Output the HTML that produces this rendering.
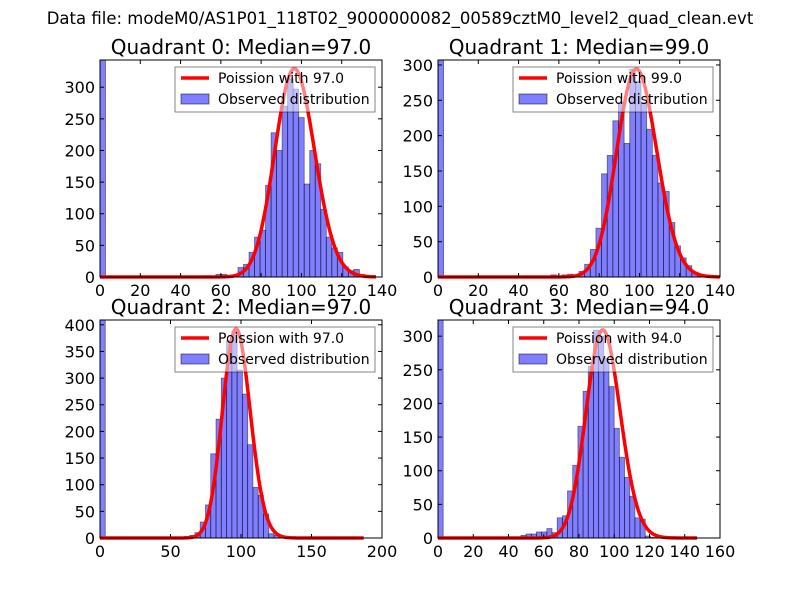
<!DOCTYPE html>
<html><head><meta charset="utf-8"><style>
body{margin:0;background:#fff;}
svg{display:block;font-family:"DejaVu Sans","Liberation Sans",sans-serif;}
</style></head><body>
<svg id="fig" width="800" height="600" viewBox="0 0 800 600">
<rect width="800" height="600" fill="#fff"/>
<text x="400" y="24" text-anchor="middle" font-size="16.5">Data file: modeM0/AS1P01_118T02_9000000082_00589cztM0_level2_quad_clean.evt</text>
</svg>
<script>
const titles = ["Quadrant 0: Median=97.0","Quadrant 1: Median=99.0","Quadrant 2: Median=97.0","Quadrant 3: Median=94.0"];
const medians = [97.0, 99.0, 97.0, 94.0];
const binWidths = [2.74, 2.8, 3.74, 2.94];
const xMaxes = [140, 140, 200, 160];
const yMaxes = [343, 307, 409, 324];
const curvePeaks = [329, 294, 392, 309];
const xTicks0 = [0,20,40,60,80,100,120,140];
const xTicks1 = [0,20,40,60,80,100,120,140];
const xTicks2 = [0,50,100,150,200];
const xTicks3 = [0,20,40,60,80,100,120,140,160];
const yTicks0 = [0,50,100,150,200,250,300];
const yTicks1 = [0,50,100,150,200,250,300];
const yTicks2 = [0,50,100,150,200,250,300,350,400];
const yTicks3 = [0,50,100,150,200,250,300];
const counts0 = [343,0,0,0,0,0,0,0,0,0,0,0,0,0,0,0,0,0,0,2,0,4,4,2,1,15,20,39,63,74,145,228,200,270,313,297,252,147,200,179,107,63,46,39,16,10,12,4,2,0];
const counts1 = [307,0,0,0,0,0,0,0,0,0,0,0,0,0,0,0,0,0,0,0,3,0,3,4,2,8,18,39,69,146,172,221,247,189,294,277,247,209,172,133,121,77,44,27,16,7,3,2,0,0];
const counts2 = [409,0,0,0,0,0,0,0,0,0,0,0,0,0,0,1,3,5,10,30,62,158,223,300,370,388,315,270,175,95,80,45,8,5,3,2,0,0,0,0,0,0,0,0,0,0,0,0,0,0];
const counts3 = [324,0,0,0,0,0,0,0,0,0,0,0,0,0,0,0,4,6,6,9,9,14,8,30,33,70,108,166,218,255,309,300,267,225,163,120,90,62,30,28,3,1,0,0,0,0,0,0,0,0];
const allCounts = [counts0,counts1,counts2,counts3];
const allXTicks = [xTicks0,xTicks1,xTicks2,xTicks3];
const allYTicks = [yTicks0,yTicks1,yTicks2,yTicks3];
const boxes = [[100,60,282,217],[438,60,282,217],[100,320,282,218],[438,320,282,218]];

const NS="http://www.w3.org/2000/svg";
const svg=document.getElementById('fig');
function mk(tag,attrs,parent){const e=document.createElementNS(NS,tag);for(const k in attrs)e.setAttribute(k,attrs[k]);(parent||svg).appendChild(e);return e;}
function lgamma(z){
  if(z<7){let p=1;while(z<7){p*=z;z+=1;}return lgamma(z)-Math.log(p);}
  return (z-0.5)*Math.log(z)-z+0.5*Math.log(2*Math.PI)+1/(12*z)-1/(360*z*z*z);
}
function pois(k,mu){return Math.exp(k*Math.log(mu)-mu-lgamma(k+1));}

for(let q=0;q<4;q++){
  const [X,Y,W,H]=boxes[q];
  const xm=xMaxes[q], ym=yMaxes[q];
  const sx=v=>X+v/xm*W, sy=v=>Y+H-v/ym*H;
  const g=mk('g',{});
  
  
  const t=mk('text',{x:X+W/2,y:Y-6,'text-anchor':'middle','font-size':20},g);
  t.textContent=titles[q];
  
  
  const bw=binWidths[q], mu=medians[q], nb=allCounts[q].length;
  allCounts[q].forEach((c,i)=>{
    if(c<=0)return;
    const top=Math.max(sy(c),Y);
    const r=mk('rect',{x:sx(i*bw),y:top,width:sx(bw)-sx(0),height:sy(0)-top,fill:'rgba(0,0,255,0.5)',stroke:'rgba(0,0,0,0.5)','stroke-width':0.8},g);
    
    
  });
  const xEnd=bw*nb, scale=curvePeaks[q]/pois(mu,mu);
  let d='';
  for(let i=0;i<=300;i++){const k=xEnd*i/300;const v=scale*pois(k,mu);d+=(i?'L':'M')+sx(k).toFixed(2)+','+sy(v).toFixed(2);}
  const cp=mk('path',{d:d,fill:'none',stroke:'#ff0000','stroke-width':3.5,'stroke-linejoin':'round'},g);
  
  
  const f=mk('rect',{x:X,y:Y,width:W,height:H,fill:'none',stroke:'#000','stroke-width':1},g);
  
  
  allXTicks[q].forEach(v=>{
    const x=sx(v);
    mk('line',{x1:x,x2:x,y1:Y+H,y2:Y+H-4,stroke:'#000'},g);
    mk('line',{x1:x,x2:x,y1:Y,y2:Y+4,stroke:'#000'},g);
    const l=mk('text',{x:x,y:Y+H+19,'text-anchor':'middle','font-size':16},g);
    l.textContent=v;
    
    
  });
  allYTicks[q].forEach(v=>{
    const y=sy(v);
    mk('line',{x1:X,x2:X+4,y1:y,y2:y,stroke:'#000'},g);
    mk('line',{x1:X+W,x2:X+W-4,y1:y,y2:y,stroke:'#000'},g);
    const l=mk('text',{x:X-5,y:y+6,'text-anchor':'end','font-size':16},g);
    l.textContent=v;
    
    
  });
  const lx=X+W-207, ly=Y+7;
  const lg=mk('g',{},g);
  
  
  mk('rect',{x:lx,y:ly,width:200,height:45,fill:'rgba(255,255,255,0.5)',stroke:'#000','stroke-width':0.8,'stroke-opacity':0.6},lg);
  mk('line',{x1:lx+6,x2:lx+34,y1:ly+11,y2:ly+11,stroke:'#ff0000','stroke-width':3.5},lg);
  mk('rect',{x:lx+6,y:ly+27,width:28,height:10,fill:'rgba(0,0,255,0.5)',stroke:'rgba(0,0,0,0.5)'},lg);
  const t1=mk('text',{x:lx+43,y:ly+16,'font-size':14},lg);
  t1.textContent='Poission with '+mu.toFixed(1);
  
  
  const t2=mk('text',{x:lx+43,y:ly+37,'font-size':14},lg);
  t2.textContent='Observed distribution';
  
  
}
</script>
</body></html>
